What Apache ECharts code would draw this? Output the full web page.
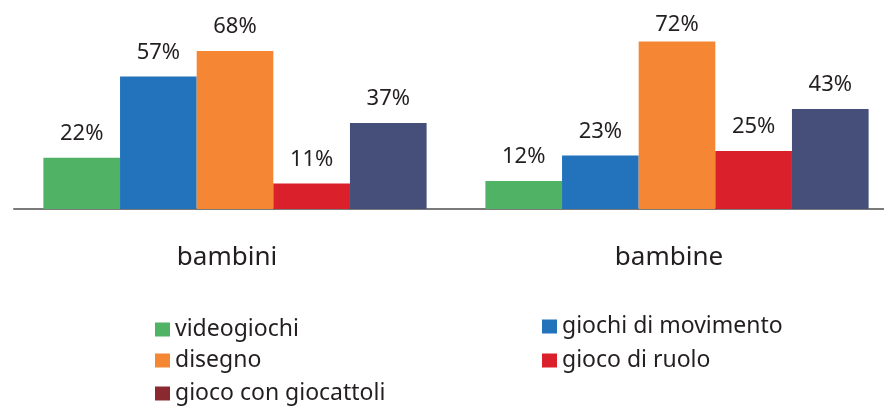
<!DOCTYPE html>
<html>
<head>
<meta charset="utf-8">
<script src="https://cdn.jsdelivr.net/npm/echarts@6/dist/echarts.min.js"></script>
<style>
html,body{margin:0;padding:0;background:#fff;}
#chart{width:884px;height:408px;}
</style>
</head>
<body>
<div id="chart"></div>
<script>
const categories = ['bambini', 'bambine'];
const seriesNames = ['videogiochi', 'giochi di movimento', 'disegno', 'gioco di ruolo', 'gioco con giocattoli'];
const videogiochi = [22, 12];
const giochiDiMovimento = [57, 23];
const disegno = [68, 72];
const giocoDiRuolo = [11, 25];
const giocoConGiocattoli = [37, 43];
const seriesValues = [videogiochi, giochiDiMovimento, disegno, giocoDiRuolo, giocoConGiocattoli];

const barColors = ['#50b264', '#2273bb', '#f58634', '#d9202b', '#464e7a'];
const legendColors = ['#50b264', '#2273bb', '#f58634', '#d9202b', '#8a2a30'];
const FONT = '"Noto Sans", sans-serif';
const TEXT = '#231f20';

const allMax = Math.max(...seriesValues.flat());

const chart = echarts.init(document.getElementById('chart'), null, {renderer: 'canvas'});

const series = seriesNames.map((name, i) => ({
  name: name,
  type: 'bar',
  barGap: '0%',
  barCategoryGap: '13.3%',
  itemStyle: {color: barColors[i]},
  label: {
    show: true,
    position: 'top',
    distance: 13,
    formatter: '{c}%',
    fontFamily: FONT,
    fontSize: 22,
    color: TEXT
  },
  data: seriesValues[i].map(v => {
    const item = {value: v};
    if (v === allMax) item.label = {distance: 6};
    return item;
  })
}));

// legend placement: [series index, left, top]
const legendSlots = [
  [0, 155, 318],
  [2, 155, 349],
  [4, 155, 382],
  [1, 542, 315],
  [3, 542, 349]
];

const legends = legendSlots.map(([idx, left, top]) => ({
  orient: 'vertical',
  icon: 'rect',
  itemWidth: 15,
  itemHeight: 14,
  padding: 0,
  left: left,
  top: top,
  selectedMode: false,
  textStyle: {fontFamily: FONT, fontSize: 23, color: TEXT, lineHeight: 20},
  data: [{name: seriesNames[idx], itemStyle: {color: legendColors[idx]}}]
}));

chart.setOption({
  animation: false,
  backgroundColor: '#ffffff',
  grid: {left: 14, top: 23, width: 884, height: 186, outerBoundsMode: 'none', containLabel: false},
  xAxis: {
    type: 'category',
    data: categories,
    axisTick: {show: false},
    axisLine: {show: true, lineStyle: {color: '#7a7a7a', width: 2}},
    axisLabel: {
      fontFamily: FONT,
      fontSize: 26,
      color: TEXT,
      margin: 36,
      padding: [0, 16, 0, 0]
    }
  },
  yAxis: {
    type: 'value',
    min: 0,
    max: 80,
    show: false,
    splitLine: {show: false}
  },
  legend: legends,
  series: series
});
</script>
</body>
</html>
